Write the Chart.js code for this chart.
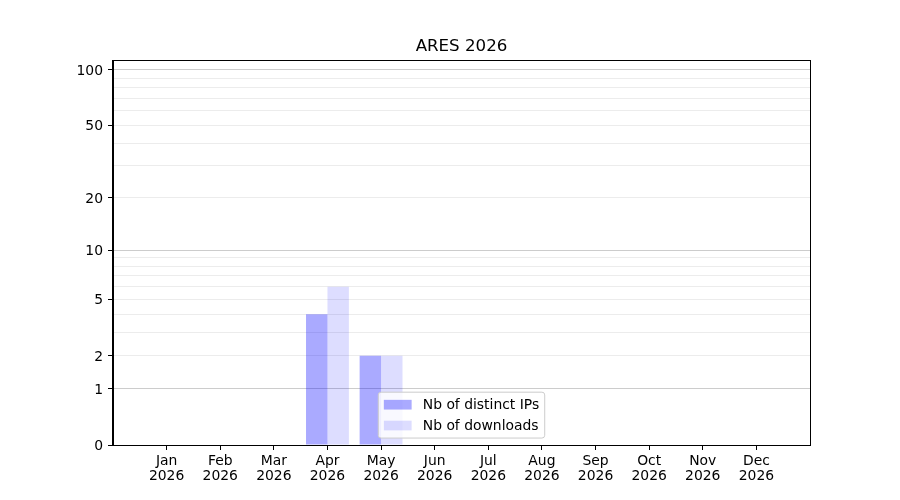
<!DOCTYPE html>
<html>
<head>
<meta charset="utf-8">
<script src="https://cdn.jsdelivr.net/npm/chart.js@4.4.1/dist/chart.umd.min.js"></script>
<style>
html,body{margin:0;padding:0;background:#fff;}
#wrap{width:900px;height:500px;}
</style>
</head>
<body>
<div id="wrap"><canvas id="c" width="900" height="500"></canvas></div>
<script>
// ---- data ----
const months = ['Jan','Feb','Mar','Apr','May','Jun','Jul','Aug','Sep','Oct','Nov','Dec'];
const year = '2026';
const distinctIPs = [0,0,0,4,2,0,0,0,0,0,0,0];
const downloads   = [0,0,0,6,2,0,0,0,0,0,0,0];
const yMajorTicks = [0,1,2,5,10,20,50,100];
const yMinorTicks = [3,4,6,7,8,9,30,40,60,70,80,90];
const yDecades    = [1,10,100];
const yMax = 113;
const titleText = 'ARES ' + year;

// ---- log(1+x) scale ----
const f = v => Math.log10(1 + v);
const finv = t => Math.pow(10, t) - 1;
class Log1pScale extends Chart.LinearScale {
  determineDataLimits() { this.min = this.options.min; this.max = this.options.max; }
  buildTicks() {
    const vals = [...yMajorTicks, ...yMinorTicks].sort((a, b) => a - b);
    return vals.filter(v => v >= this.min && v <= this.max).map(v => ({ value: v }));
  }
  configure() {
    super.configure();
    this._fStart = f(this.min);
    this._fRange = f(this.max) - f(this.min);
  }
  getPixelForValue(v) { return this.getPixelForDecimal((f(v) - this._fStart) / this._fRange); }
  getValueForPixel(p) { return finv(this.getDecimalForPixel(p) * this._fRange + this._fStart); }
}
Log1pScale.id = 'log1p';
Log1pScale.defaults = {};
Chart.register(Log1pScale);

// padded categories (one empty slot on each side, like the reference x-limits)
const labels = [''].concat(months.map(m => [m, year]), ['']);
const pad = arr => [null].concat(arr, [null]);

const FONT = 'DejaVu Sans';
Chart.defaults.font.family = FONT;
Chart.defaults.color = '#000';

const colIP = 'rgba(0,0,255,0.333)';
const colDL = 'rgba(0,0,255,0.135)';

const framePlugin = {
  id: 'frame',
  afterDatasetsDraw(chart) {
    const { ctx, chartArea: a } = chart;
    ctx.save();
    ctx.strokeStyle = '#000';
    ctx.lineWidth = 1;
    ctx.strokeRect(Math.round(a.left) - 0.5, Math.round(a.top) + 0.5, Math.round(a.right - a.left) + 1, Math.round(a.bottom - a.top));
    ctx.restore();
  }
};

const legendPlugin = {
  id: 'innerLegend',
  afterDraw(chart) {
    const { ctx, chartArea: a } = chart;
    const fs = 13.9;
    const ds = chart.data.datasets;
    ctx.save();
    ctx.font = fs + 'px "' + FONT + '"';
    const tw = Math.max(...ds.map(d => ctx.measureText(d.label).width));
    const bp = 0.4 * fs, hl = 2 * fs, htp = 0.8 * fs, ls = 0.5 * fs, rowH = fs;
    const w = 2 * bp + hl + htp + tw;
    const h = 2 * bp + ds.length * rowH + (ds.length - 1) * ls;
    const x0 = (a.left + a.right) / 2 - w / 2;
    const y0 = a.bottom - 0.5 * fs - h;
    const r = 0.2 * fs;
    ctx.beginPath();
    ctx.moveTo(x0 + r, y0);
    ctx.arcTo(x0 + w, y0, x0 + w, y0 + h, r);
    ctx.arcTo(x0 + w, y0 + h, x0, y0 + h, r);
    ctx.arcTo(x0, y0 + h, x0, y0, r);
    ctx.arcTo(x0, y0, x0 + w, y0, r);
    ctx.closePath();
    ctx.fillStyle = 'rgba(255,255,255,0.8)';
    ctx.fill();
    ctx.strokeStyle = 'rgba(204,204,204,1)';
    ctx.lineWidth = 1;
    ctx.stroke();
    ds.forEach((d, i) => {
      const cy = y0 + bp + i * (rowH + ls) + rowH / 2;
      ctx.fillStyle = d.backgroundColor;
      ctx.fillRect(x0 + bp, cy - 0.35 * fs, hl, 0.7 * fs);
      ctx.fillStyle = '#000';
      ctx.textBaseline = 'middle';
      ctx.textAlign = 'left';
      ctx.fillText(d.label, x0 + bp + hl + htp, cy + 1);
    });
    ctx.restore();
  }
};

new Chart(document.getElementById('c'), {
  type: 'bar',
  data: {
    labels: labels,
    datasets: [
      { label: 'Nb of distinct IPs', data: pad(distinctIPs), backgroundColor: colIP, borderWidth: 0 },
      { label: 'Nb of downloads', data: pad(downloads), backgroundColor: colDL, borderWidth: 0 }
    ]
  },
  options: {
    responsive: false,
    animation: false,
    devicePixelRatio: 1,
    layout: { padding: { left: 0, right: 90, top: 0, bottom: 0 } },
    datasets: { bar: { categoryPercentage: 0.8, barPercentage: 1.0 } },
    plugins: {
      legend: { display: false },
      tooltip: { enabled: false },
      title: {
        display: true, text: titleText, color: '#000', fullSize: false,
        font: { family: FONT, size: 16.67, weight: 'normal', lineHeight: 1.2 },
        padding: { top: 37, bottom: 3 }
      }
    },
    scales: {
      x: {
        type: 'category',
        offset: false,
        grid: {
          offset: false,
          drawOnChartArea: false,
          tickLength: 5,
          tickColor: ctx => (ctx.index === 0 || ctx.index === labels.length - 1) ? 'rgba(0,0,0,0)' : '#000'
        },
        border: { display: true, color: '#000', width: 1 },
        ticks: { color: '#000', font: { family: FONT, size: 13.9, lineHeight: 1.08 }, padding: 4, maxRotation: 0, autoSkip: false },
        afterFit: s => { s.height = 55; }
      },
      y: {
        type: 'log1p',
        min: 0,
        max: yMax,
        grid: {
          color: ctx => {
            const v = ctx.tick ? ctx.tick.value : 0;
            if (v === 0) return 'rgba(0,0,0,0)';
            return yDecades.includes(v) ? '#cccccc' : '#ececec';
          },
          tickColor: ctx => (ctx.tick && yMajorTicks.includes(ctx.tick.value)) ? '#000' : 'rgba(0,0,0,0)',
          tickLength: 5
        },
        border: { display: true, color: '#000', width: 1 },
        ticks: {
          autoSkip: false,
          color: '#000',
          font: { family: FONT, size: 13.9 },
          padding: 5,
          labelOffset: 1.5,
          callback: v => yMajorTicks.includes(v) ? String(v) : ''
        },
        afterFit: s => { s.width = 113; }
      }
    }
  },
  plugins: [framePlugin, legendPlugin]
});
</script>
</body>
</html>
